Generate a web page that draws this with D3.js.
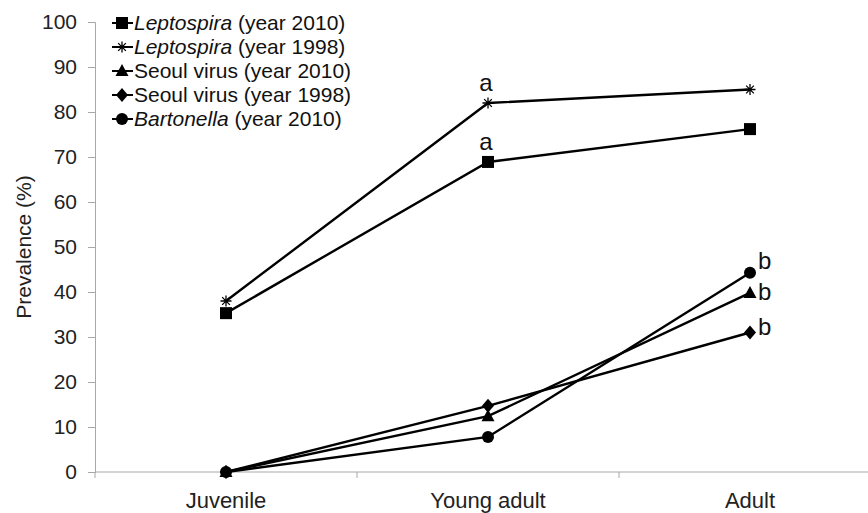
<!DOCTYPE html>
<html>
<head>
<meta charset="utf-8">
<script src="https://cdn.jsdelivr.net/npm/d3@7"></script>
<style>
  body { margin: 0; background: #fff; }
  svg { display: block; font-family: "Liberation Sans", Arial, sans-serif; }
</style>
</head>
<body>
<div id="chart"></div>
<script>
const ageGroups = ["Juvenile", "Young adult", "Adult"];
const yTicks = [0, 10, 20, 30, 40, 50, 60, 70, 80, 90, 100];

const seriesNames = ["Leptospira", "Leptospira", "Seoul virus", "Seoul virus", "Bartonella"];
const seriesYears = ["(year 2010)", "(year 1998)", "(year 2010)", "(year 1998)", "(year 2010)"];
const seriesItalic = [true, true, false, false, true];
const seriesSymbols = ["square", "asterisk", "triangle", "diamond", "circle"];

const lepto2010 = [35.3, 68.9, 76.2];
const lepto1998 = [38, 82, 85];
const seoul2010 = [0, 12.4, 39.8];
const seoul1998 = [0, 14.7, 31];
const barto2010 = [0, 7.8, 44.3];
const seriesValues = [lepto2010, lepto1998, seoul2010, seoul1998, barto2010];

// significance letters: [series index, age index, letter]
const letters = [[1, 1, "a"], [0, 1, "a"], [4, 2, "b"], [2, 2, "b"], [3, 2, "b"]];

const width = 868, height = 513;
const margin = {top: 22, right: -13, bottom: 41, left: 95};

const svg = d3.select("#chart").append("svg")
  .attr("width", width)
  .attr("height", height);

const x = d3.scaleBand()
  .domain(ageGroups)
  .range([margin.left, width - margin.right]);

const y = d3.scaleLinear()
  .domain([0, 100])
  .range([height - margin.bottom, margin.top]);

const axisGrey = "#a8a8a8";

// y axis
const yAxis = svg.append("g")
  .attr("transform", `translate(${margin.left},0)`)
  .call(d3.axisLeft(y).tickValues(yTicks).tickSize(7).tickPadding(11));
yAxis.select(".domain").attr("stroke", axisGrey);
yAxis.selectAll(".tick line").attr("stroke", axisGrey);
yAxis.selectAll(".tick text")
  .attr("font-size", 21)
  .attr("fill", "#222")
  .attr("font-family", "Liberation Sans, Arial, sans-serif");

// x axis: ticks at category boundaries
const xg = svg.append("g").attr("transform", `translate(0,${y(0)})`);
xg.append("line")
  .attr("x1", margin.left).attr("x2", width)
  .attr("stroke", axisGrey);
xg.selectAll(".xt")
  .data(ageGroups)
  .join("line")
  .attr("x1", d => x(d)).attr("x2", d => x(d))
  .attr("y1", 0).attr("y2", 6)
  .attr("stroke", axisGrey);
xg.selectAll(".xl")
  .data(ageGroups)
  .join("text")
  .attr("x", d => x(d) + x.bandwidth() / 2)
  .attr("y", 36)
  .attr("text-anchor", "middle")
  .attr("font-size", 22)
  .attr("fill", "#222")
  .text(d => d);

// y title
svg.append("text")
  .attr("transform", `translate(31,${y(50)}) rotate(-90)`)
  .attr("text-anchor", "middle")
  .attr("font-size", 21)
  .attr("fill", "#222")
  .text("Prevalence (%)");

const cx = d => x(d) + x.bandwidth() / 2;

const line = d3.line()
  .x((d, i) => cx(ageGroups[i]))
  .y(d => y(d));

function drawSymbol(g, kind, px, py) {
  if (kind === "square") {
    g.append("rect").attr("x", px - 6).attr("y", py - 6).attr("width", 12).attr("height", 12).attr("fill", "#000");
  } else if (kind === "asterisk") {
    const s = 5.5;
    const p = `M${px - s},${py}L${px + s},${py}M${px - s * 0.7},${py - s * 0.7}L${px + s * 0.7},${py + s * 0.7}` +
      `M${px - s * 0.7},${py + s * 0.7}L${px + s * 0.7},${py - s * 0.7}M${px},${py - s}L${px},${py + s}`;
    g.append("path").attr("d", p).attr("stroke", "#000").attr("stroke-width", 1.3).attr("fill", "none");
  } else if (kind === "triangle") {
    g.append("path").attr("d", `M${px},${py - 7}L${px + 6.5},${py + 5}L${px - 6.5},${py + 5}Z`).attr("fill", "#000");
  } else if (kind === "diamond") {
    g.append("path").attr("d", `M${px},${py - 7}L${px + 6},${py}L${px},${py + 7}L${px - 6},${py}Z`).attr("fill", "#000");
  } else if (kind === "circle") {
    g.append("circle").attr("cx", px).attr("cy", py).attr("r", 6).attr("fill", "#000");
  }
}

const plot = svg.append("g");
seriesValues.forEach((vals) => {
  plot.append("path")
    .datum(vals)
    .attr("d", line)
    .attr("fill", "none")
    .attr("stroke", "#000")
    .attr("stroke-width", 2.4);
});
seriesValues.forEach((vals, si) => {
  vals.forEach((v, i) => drawSymbol(plot, seriesSymbols[si], cx(ageGroups[i]), y(v)));
});

// letters: "a" above the point, "b" to the right; spread b's that would collide
const letterPos = letters.map(d => {
  const v = seriesValues[d[0]][d[1]];
  const px = cx(ageGroups[d[1]]);
  return d[2] === "a"
    ? {t: d[2], x: px - 2, y: y(v) - 12, anchor: "middle"}
    : {t: d[2], x: px + 8, y: y(v) + 2, anchor: "start"};
});
const bs = letterPos.filter(d => d.t === "b").sort((p, q) => p.y - q.y);
for (let i = 1; i < bs.length; i++) {
  const gap = bs[i].y - bs[i - 1].y;
  if (gap < 31) {
    const shift = (31 - gap) / 2;
    bs[i - 1].y -= shift;
    bs[i].y += shift;
  }
}
svg.selectAll(".letter")
  .data(letterPos)
  .join("text")
  .attr("x", d => d.x)
  .attr("y", d => d.y)
  .attr("text-anchor", d => d.anchor)
  .attr("font-size", 24)
  .attr("fill", "#111")
  .text(d => d.t);

// legend
const legend = svg.append("g").attr("transform", "translate(112,23)");
seriesNames.forEach((name, i) => {
  const row = legend.append("g").attr("transform", `translate(0,${i * 24})`);
  row.append("line").attr("x1", 0).attr("x2", 21).attr("y1", 0).attr("y2", 0)
    .attr("stroke", "#000").attr("stroke-width", 2);
  drawSymbol(row, seriesSymbols[i], 10, 0);
  const t = row.append("text").attr("x", 22).attr("y", 7).attr("font-size", 21).attr("fill", "#111");
  t.append("tspan").attr("font-style", seriesItalic[i] ? "italic" : "normal").text(name);
  t.append("tspan").text(" " + seriesYears[i]);
});
</script>
</body>
</html>
